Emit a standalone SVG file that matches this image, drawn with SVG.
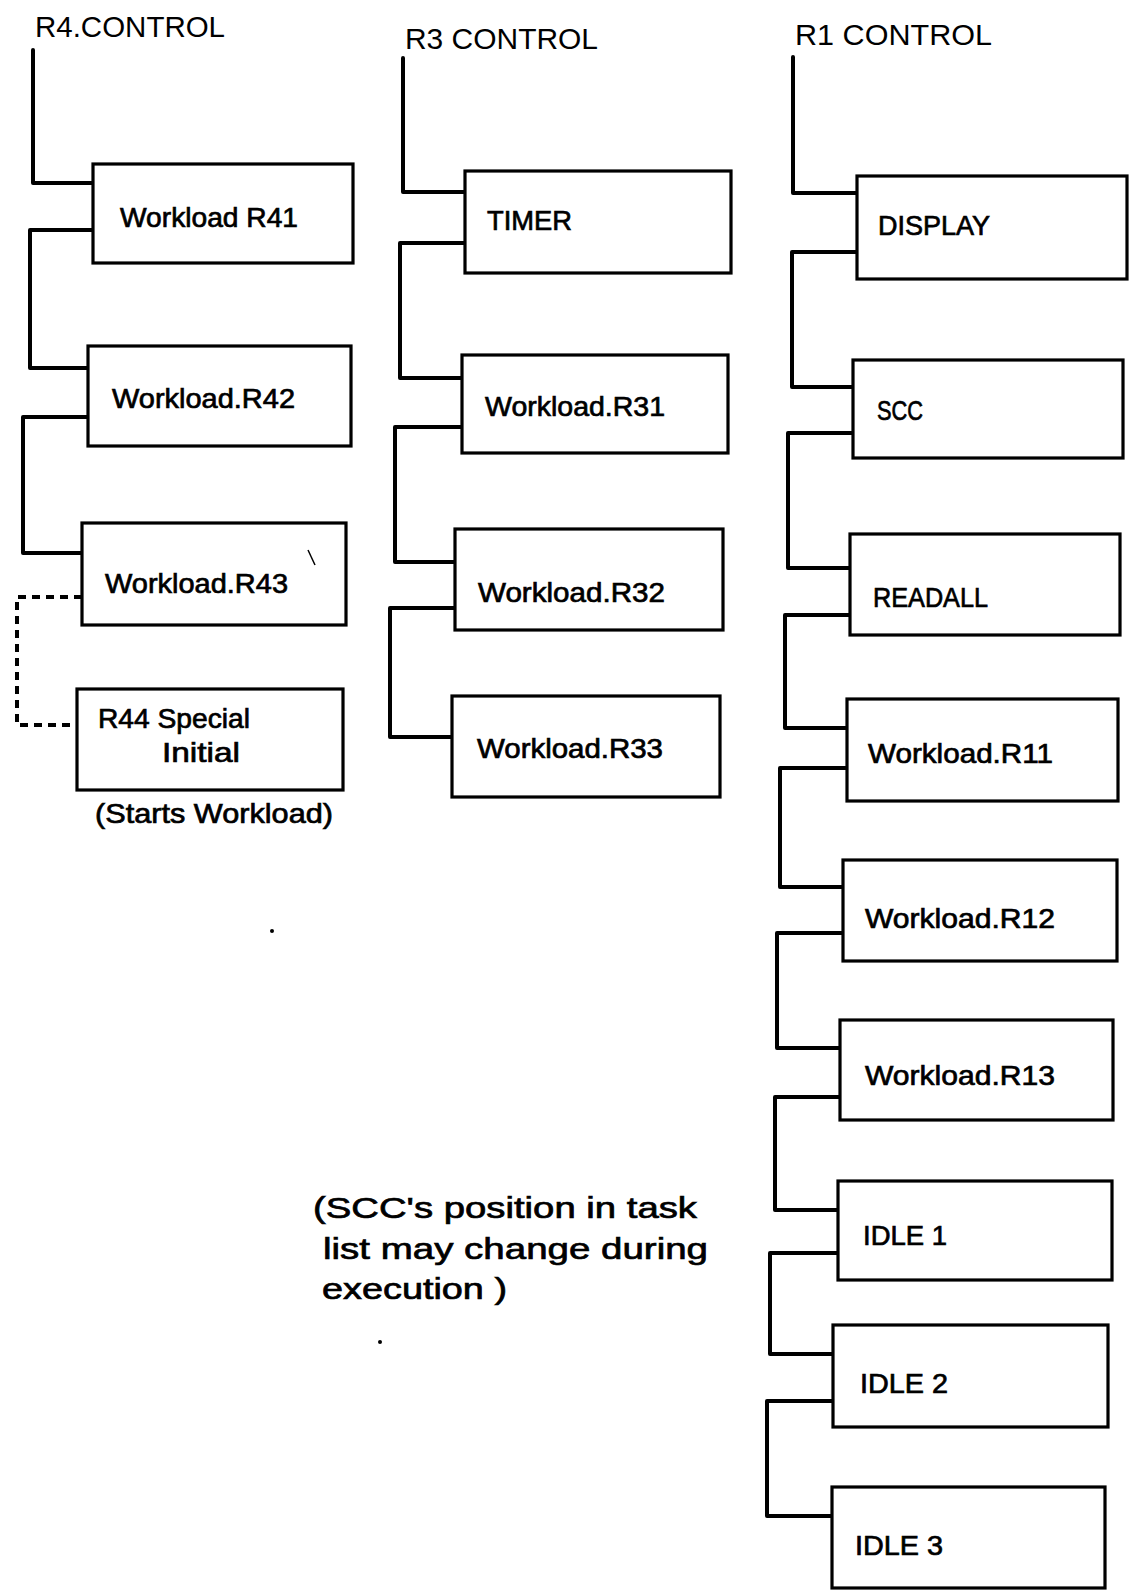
<svg xmlns="http://www.w3.org/2000/svg" width="1134" height="1591" viewBox="0 0 1134 1591">
<style>
.box{fill:#fff;stroke:#000;stroke-width:3.2}
.con{fill:none;stroke:#000;stroke-width:4;stroke-linejoin:round;stroke-linecap:round}
.dash{fill:none;stroke:#000;stroke-width:4;stroke-dasharray:8 6}
text{font-family:"Liberation Sans",Arial,sans-serif;fill:#000}
.title{font-size:30px}
.lbl{font-size:28px;stroke:#000;stroke-width:0.7}
.note{font-size:30px;stroke:#000;stroke-width:0.7}
</style>
<rect x="0" y="0" width="1134" height="1591" fill="#fff"/>
<g id="connectors">
<path class="con" d="M33,50 V183 H93"/>
<path class="con" d="M93,230 H30 V368 H88"/>
<path class="con" d="M88,417 H23 V553 H82"/>
<path class="dash" d="M82,597 H17 V725 H77"/>
<path class="con" d="M403,58 V192 H465"/>
<path class="con" d="M465,243 H400 V378 H462"/>
<path class="con" d="M462,427 H395 V562 H455"/>
<path class="con" d="M455,608 H390 V737 H452"/>
<path class="con" d="M793,57 V193 H857"/>
<path class="con" d="M857,252 H792 V387 H853"/>
<path class="con" d="M853,433 H788 V568 H850"/>
<path class="con" d="M850,615 H785 V728 H847"/>
<path class="con" d="M847,768 H780 V887 H843"/>
<path class="con" d="M843,933 H777 V1048 H840"/>
<path class="con" d="M840,1097 H775 V1210 H838"/>
<path class="con" d="M838,1253 H770 V1354 H833"/>
<path class="con" d="M833,1401 H767 V1516 H832"/>
</g>
<g id="titles">
<text class="title" x="35" y="37" textLength="190" lengthAdjust="spacingAndGlyphs">R4.CONTROL</text>
<text class="title" x="405" y="49" textLength="193" lengthAdjust="spacingAndGlyphs">R3 CONTROL</text>
<text class="title" x="795" y="45" textLength="197" lengthAdjust="spacingAndGlyphs">R1 CONTROL</text>
</g>
<g id="r41"><rect class="box" x="93" y="164" width="260" height="99"/><text class="lbl" x="120" y="227" textLength="178" lengthAdjust="spacingAndGlyphs">Workload R41</text></g>
<g id="r42"><rect class="box" x="88" y="346" width="263" height="100"/><text class="lbl" x="112" y="408" textLength="183" lengthAdjust="spacingAndGlyphs">Workload.R42</text></g>
<g id="r43"><rect class="box" x="82" y="523" width="264" height="102"/><text class="lbl" x="105" y="593" textLength="183" lengthAdjust="spacingAndGlyphs">Workload.R43</text><line x1="308" y1="550" x2="315" y2="565" stroke="#000" stroke-width="1.5"/></g>
<g id="r44"><rect class="box" x="77" y="689" width="266" height="101"/><text class="lbl" x="98" y="728" textLength="152" lengthAdjust="spacingAndGlyphs">R44 Special</text><text class="lbl" x="162" y="762" textLength="78" lengthAdjust="spacingAndGlyphs">Initial</text><text class="lbl" x="95" y="823" textLength="238" lengthAdjust="spacingAndGlyphs">(Starts Workload)</text></g>
<g id="timer"><rect class="box" x="465" y="171" width="266" height="102"/><text class="lbl" x="487" y="230" textLength="85" lengthAdjust="spacingAndGlyphs">TIMER</text></g>
<g id="r31"><rect class="box" x="462" y="355" width="266" height="98"/><text class="lbl" x="485" y="416" textLength="180" lengthAdjust="spacingAndGlyphs">Workload.R31</text></g>
<g id="r32"><rect class="box" x="455" y="529" width="268" height="101"/><text class="lbl" x="478" y="602" textLength="187" lengthAdjust="spacingAndGlyphs">Workload.R32</text></g>
<g id="r33"><rect class="box" x="452" y="696" width="268" height="101"/><text class="lbl" x="477" y="758" textLength="186" lengthAdjust="spacingAndGlyphs">Workload.R33</text></g>
<g id="display"><rect class="box" x="857" y="176" width="270" height="103"/><text class="lbl" x="878" y="235" textLength="112" lengthAdjust="spacingAndGlyphs">DISPLAY</text></g>
<g id="scc"><rect class="box" x="853" y="360" width="270" height="98"/><text class="lbl" x="877" y="420" textLength="46" lengthAdjust="spacingAndGlyphs">SCC</text></g>
<g id="readall"><rect class="box" x="850" y="534" width="270" height="101"/><text class="lbl" x="873" y="607" textLength="115" lengthAdjust="spacingAndGlyphs">READALL</text></g>
<g id="r11"><rect class="box" x="847" y="699" width="271" height="102"/><text class="lbl" x="868" y="763" textLength="185" lengthAdjust="spacingAndGlyphs">Workload.R11</text></g>
<g id="r12"><rect class="box" x="843" y="860" width="274" height="101"/><text class="lbl" x="865" y="928" textLength="190" lengthAdjust="spacingAndGlyphs">Workload.R12</text></g>
<g id="r13"><rect class="box" x="840" y="1020" width="273" height="100"/><text class="lbl" x="865" y="1085" textLength="190" lengthAdjust="spacingAndGlyphs">Workload.R13</text></g>
<g id="idle1"><rect class="box" x="838" y="1181" width="274" height="99"/><text class="lbl" x="863" y="1245" textLength="84" lengthAdjust="spacingAndGlyphs">IDLE 1</text></g>
<g id="idle2"><rect class="box" x="833" y="1325" width="275" height="102"/><text class="lbl" x="860" y="1393" textLength="88" lengthAdjust="spacingAndGlyphs">IDLE 2</text></g>
<g id="idle3"><rect class="box" x="832" y="1487" width="273" height="101"/><text class="lbl" x="855" y="1555" textLength="88" lengthAdjust="spacingAndGlyphs">IDLE 3</text></g>
<g id="note">
<text class="note" x="313" y="1218" textLength="384" lengthAdjust="spacingAndGlyphs">(SCC's position in task</text>
<text class="note" x="323" y="1259" textLength="385" lengthAdjust="spacingAndGlyphs">list may change during</text>
<text class="note" x="322" y="1299" textLength="185" lengthAdjust="spacingAndGlyphs">execution )</text>
</g>
<g id="specks">
<circle cx="272" cy="931" r="2"/>
<circle cx="380" cy="1342" r="2"/>
</g>
</svg>
